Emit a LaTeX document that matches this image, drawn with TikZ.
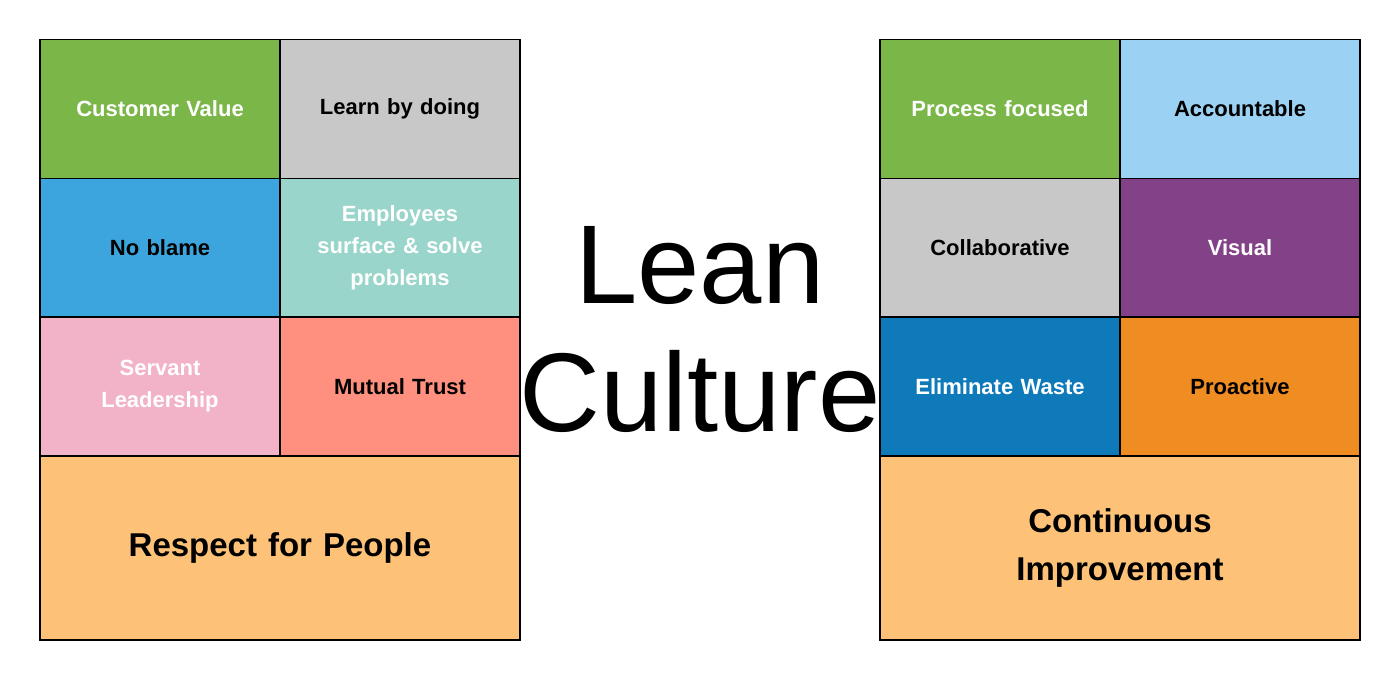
\documentclass[tikz,border=0pt]{standalone}
\usepackage{fontspec}
\setmainfont{Liberation Sans}
\usetikzlibrary{positioning}
\definecolor{c-green}{HTML}{7AB648}
\definecolor{c-gray}{HTML}{C8C8C8}
\definecolor{c-blue}{HTML}{3DA5DD}
\definecolor{c-teal}{HTML}{99D5CA}
\definecolor{c-pink}{HTML}{F2B3C9}
\definecolor{c-salmon}{HTML}{FF9080}
\definecolor{c-orange}{HTML}{FDC278}
\definecolor{c-sky}{HTML}{9BD1F2}
\definecolor{c-purple}{HTML}{834187}
\definecolor{c-navy}{HTML}{0F7ABA}
\definecolor{c-amber}{HTML}{EF8D22}

\begin{document}
\begin{tikzpicture}[x=1pt, y=-1pt,
cell/.style={draw=black, line width=1.2pt, minimum width=240pt, minimum height=139pt, inner sep=0pt,
  text width=220pt, align=center, font=\fontsize{22}{32}\selectfont\bfseries, fill=#1},
big/.style={draw=black, line width=1.2pt, minimum width=480pt, minimum height=184pt, inner sep=0pt,
  text width=440pt, align=center, font=\fontsize{33}{48}\selectfont\bfseries, fill=c-orange}]
\useasboundingbox (0,0) rectangle (1400,681);

% left block
\node [cell=c-green, text=white] (cv) at (160,109) {Customer Value};
\node [cell=c-gray] (ld) at (400,109) {Learn by doing};
\node [cell=c-blue] (nb) at (160,248) {No blame};
\node [cell=c-teal, text=white] (es) at (400,248) {Employees\\surface \& solve\\problems};
\node [cell=c-pink, text=white] (sl) at (160,386.5) {Servant\\Leadership};
\node [cell=c-salmon] (mt) at (400,386.5) {Mutual Trust};
\node [big] (rp) at (280,548) {Respect for People};

% right block
\node [cell=c-green, text=white] (pf) at (1000,109) {Process focused};
\node [cell=c-sky] (ac) at (1240,109) {Accountable};
\node [cell=c-gray] (co) at (1000,248) {Collaborative};
\node [cell=c-purple, text=white] (vi) at (1240,248) {Visual};
\node [cell=c-navy, text=white] (ew) at (1000,386.5) {Eliminate Waste};
\node [cell=c-amber] (pr) at (1240,386.5) {Proactive};
\node [big] (ci) at (1120,548) {Continuous\\Improvement};

% title
\node [align=center, font=\fontsize{112}{128}\selectfont] (lc) at (700,330) {Lean\\Culture};
\end{tikzpicture}
\end{document}
